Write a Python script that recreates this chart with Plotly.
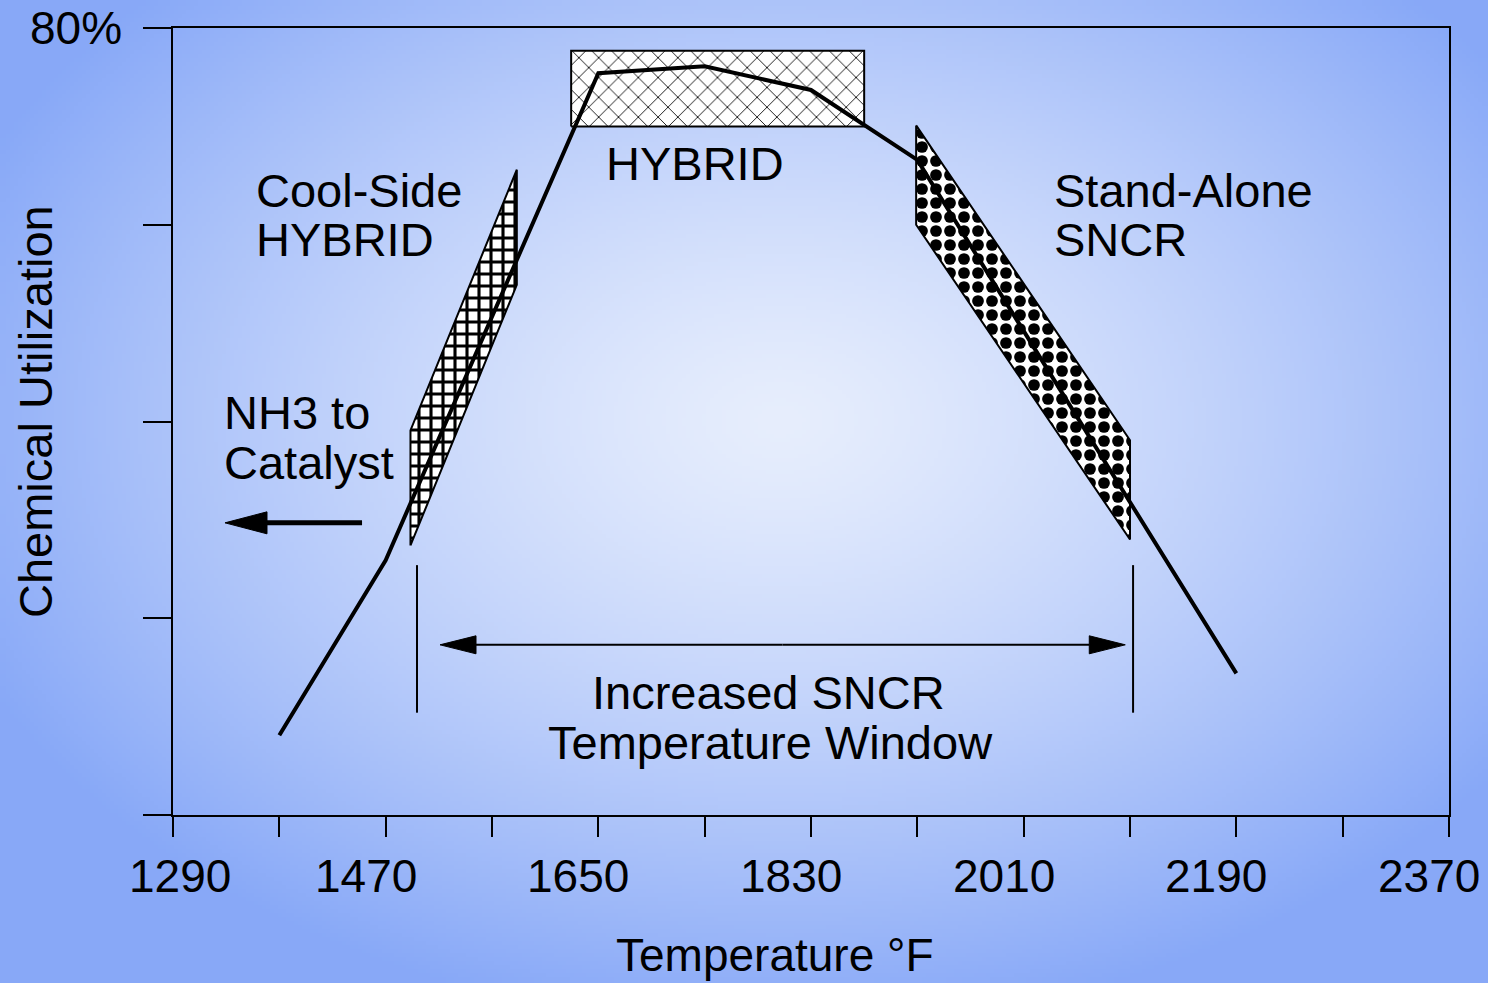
import base64, struct, zlib
import numpy as np
import plotly.graph_objects as go

# ---------------- data ----------------
temps = [1380, 1470, 1650, 1740, 1830, 1920, 2190]
utilization = [8.1, 25.9, 75.4, 76.1, 73.7, 66.6, 14.4]

x_ticks = [1290, 1380, 1470, 1560, 1650, 1740, 1830, 1920, 2010, 2100, 2190, 2280, 2370]
x_tick_labels = ["1290", "", "1470", "", "1650", "", "1830", "", "2010", "", "2190", "", "2370"]
y_ticks = [0, 20, 40, 60, 80]
y_tick_labels = ["", "", "", "", "80%"]

# zones
hybrid_x = [1627, 1875]
hybrid_y = [70.0, 77.7]
cool_x = [1491, 1491, 1581, 1581]
cool_y = [27.4, 39.1, 65.6, 53.9]
sncr_x = [1919, 1919, 2100, 2100]
sncr_y = [70.1, 60.0, 28.0, 38.1]

window_lines_x = [1496.5, 2102.6]
window_lines_y = [10.4, 25.4]
window_arrow_x = [1516, 2096]
window_arrow_y = 17.3
nh3_arrow_x = [1450, 1334]
nh3_arrow_y = 29.7

# ---------------- layout geometry ----------------
W, H = 1488, 983
ML, MR, MT, MB = 173, 39, 28, 168
PW, PH = W - ML - MR, H - MT - MB
XR = [1290, 2370]
YR = [0, 80]
dxpp = (XR[1] - XR[0]) / PW
dypp = (YR[1] - YR[0]) / PH


def px_x(px):
    return (px - ML) / PW


def px_y(py):
    return (H - MB - py) / PH


# ---------------- background gradient ----------------
def png_uri(arr):
    h, w, _ = arr.shape
    raw = b"".join(b"\x00" + arr[r].tobytes() for r in range(h))

    def chunk(t, d):
        c = struct.pack(">I", len(d)) + t + d
        return c + struct.pack(">I", zlib.crc32(t + d) & 0xFFFFFFFF)

    png = (b"\x89PNG\r\n\x1a\n" + chunk(b"IHDR", struct.pack(">IIBBBBB", w, h, 8, 2, 0, 0, 0))
           + chunk(b"IDAT", zlib.compress(raw, 9)) + chunk(b"IEND", b""))
    return "data:image/png;base64," + base64.b64encode(png).decode()


gw, gh = 372, 246
gx = (np.arange(gw) + 0.5) * W / gw
gy = (np.arange(gh) + 0.5) * H / gh
XX, YY = np.meshgrid(gx, gy)
d = np.sqrt(((XX - 780) / 840) ** 2 + ((YY - 420) / 580) ** 2)
t = np.clip(d, 0, 1.05) ** 1.3
c0 = np.array([231, 238, 253], float)
c1 = np.array([142, 173, 248], float)
img = c0[None, None, :] + (c1 - c0)[None, None, :] * t[..., None]
img = np.clip(img, 0, 255).astype(np.uint8)
bg_uri = png_uri(img)

fig = go.Figure()

# HYBRID box
fig.add_trace(go.Scatter(
    x=[hybrid_x[0], hybrid_x[0], hybrid_x[1], hybrid_x[1], hybrid_x[0]],
    y=[hybrid_y[0], hybrid_y[1], hybrid_y[1], hybrid_y[0], hybrid_y[0]],
    mode="lines", fill="toself", line=dict(color="black", width=2),
    fillcolor="white",
    fillpattern=dict(shape="x", fgcolor="black", bgcolor="white", fgopacity=1,
                     size=14, solidity=0.12),
    hoverinfo="skip", showlegend=False))

# Cool-side band (bricks)
fig.add_trace(go.Scatter(
    x=cool_x + [cool_x[0]], y=cool_y + [cool_y[0]],
    mode="lines", fill="toself", line=dict(color="black", width=2),
    fillcolor="white",
    fillpattern=dict(shape="+", fgcolor="black", bgcolor="white", fgopacity=1,
                     size=12, solidity=0.45),
    hoverinfo="skip", showlegend=False))

# SNCR band (checker)
fig.add_trace(go.Scatter(
    x=sncr_x + [sncr_x[0]], y=sncr_y + [sncr_y[0]],
    mode="lines", fill="toself", line=dict(color="black", width=2),
    fillcolor="white",
    fillpattern=dict(shape=".", fgcolor="black", bgcolor="white", fgopacity=1,
                     size=14, solidity=0.55),
    hoverinfo="skip", showlegend=False))

# main curve
fig.add_trace(go.Scatter(x=temps, y=utilization, mode="lines",
                         line=dict(color="black", width=4),
                         hoverinfo="skip", showlegend=False))

# window verticals
for xv in window_lines_x:
    fig.add_trace(go.Scatter(x=[xv, xv], y=window_lines_y, mode="lines",
                             line=dict(color="black", width=2),
                             hoverinfo="skip", showlegend=False))


def arrow(x_from, x_to, y, width, head_len, head_half):
    direction = 1 if x_to > x_from else -1
    base = x_to - direction * head_len * dxpp
    fig.add_trace(go.Scatter(x=[x_from, base], y=[y, y], mode="lines",
                             line=dict(color="black", width=width),
                             hoverinfo="skip", showlegend=False))
    fig.add_trace(go.Scatter(
        x=[x_to, base, base, x_to],
        y=[y, y + head_half * dypp, y - head_half * dypp, y],
        mode="lines", fill="toself", fillcolor="black",
        line=dict(color="black", width=1),
        hoverinfo="skip", showlegend=False))


mid = (window_arrow_x[0] + window_arrow_x[1]) / 2
arrow(mid, window_arrow_x[0], window_arrow_y, 2, 36, 9)
arrow(mid, window_arrow_x[1], window_arrow_y, 2, 36, 9)
arrow(nh3_arrow_x[0], nh3_arrow_x[1], nh3_arrow_y, 5, 42, 11)

FONT = "Liberation Sans, Arial, Helvetica, sans-serif"
FS = 47
FT = 46
anns = []


def label(text, px, py, xanchor="left", angle=0, size=FS):
    anns.append(dict(text=text, x=px_x(px), y=px_y(py), xref="paper", yref="paper",
                     xanchor=xanchor, yanchor="middle", showarrow=False,
                     textangle=angle, font=dict(family=FONT, size=size, color="black")))


label("Cool-Side", 254, 190)
label("HYBRID", 254, 239)
label("HYBRID", 695, 163, "center")
label("Stand-Alone", 1052, 190)
label("SNCR", 1052, 239)
label("NH3 to", 222, 412)
label("Catalyst", 222, 463)
label("Increased SNCR", 768, 692, "center")
label("Temperature Window", 770, 742, "center")
label("Chemical Utilization", 35, 412, "center", angle=-90, size=47)
label("Temperature °F", 775, 955, "center", size=46)

# x tick labels with individual nudges
shifts = [7] + [-20] * (len(x_ticks) - 1)
for v, txt, s in zip(x_ticks, x_tick_labels, shifts):
    if txt:
        anns.append(dict(text=txt, x=v, y=px_y(876), xref="x", yref="paper",
                         xanchor="center", yanchor="middle", xshift=s, showarrow=False,
                         font=dict(family=FONT, size=FT, color="black")))
for v, txt in zip(y_ticks, y_tick_labels):
    if txt:
        anns.append(dict(text=txt, x=px_x(124), y=v, xref="paper", yref="y",
                         xanchor="right", yanchor="middle", showarrow=False,
                         font=dict(family=FONT, size=FT, color="black")))

fig.update_layout(
    width=W, height=H, autosize=False,
    margin=dict(l=ML, r=MR, t=MT, b=MB, pad=0),
    paper_bgcolor="rgba(0,0,0,0)", plot_bgcolor="rgba(0,0,0,0)",
    font=dict(family=FONT, size=FS, color="black"),
    annotations=anns,
    images=[dict(source=bg_uri, xref="paper", yref="paper",
                 x=-ML / PW, y=1 + MT / PH, sizex=W / PW, sizey=H / PH,
                 xanchor="left", yanchor="top", sizing="stretch", layer="below")],
    xaxis=dict(range=XR, tickvals=x_ticks, ticktext=[""] * len(x_ticks),
               ticks="outside", ticklen=20, tickwidth=2, tickcolor="black",
               showline=True, linecolor="black", linewidth=2, mirror=True,
               showgrid=False, zeroline=False, fixedrange=True),
    yaxis=dict(range=YR, tickvals=y_ticks, ticktext=[""] * len(y_ticks),
               ticks="outside", ticklen=28, tickwidth=2, tickcolor="black",
               showline=True, linecolor="black", linewidth=2, mirror=True,
               showgrid=False, zeroline=False, fixedrange=True),
)

fig.write_html("out.html", config={"displayModeBar": False},
               post_script="document.body.style.margin='0';document.body.style.overflow='hidden';")
